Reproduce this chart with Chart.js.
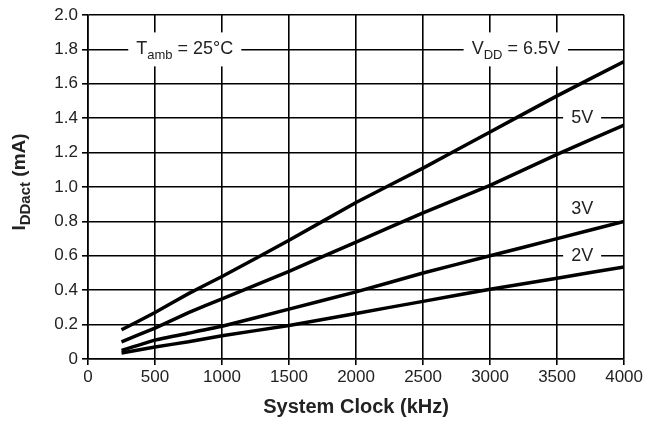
<!DOCTYPE html>
<html>
<head>
<meta charset="utf-8">
<script src="https://cdn.jsdelivr.net/npm/chart.js@4.4.0/dist/chart.umd.min.js"></script>
<style>
  body { margin: 0; background: #fff; }
  #wrap { width: 645px; height: 423px; }
</style>
</head>
<body>
<div id="wrap"><canvas id="chart" width="645" height="423"></canvas></div>
<script>
// system clock (kHz) where the curves were sampled
const clockKHz = [250, 500, 750, 1000, 1500, 2000, 2500, 3000, 3500, 4000];

// supply current IDDact (mA) per VDD
const idd65V = [0.17, 0.27, 0.38, 0.48, 0.69, 0.91, 1.11, 1.32, 1.53, 1.73];
const idd5V  = [0.10, 0.18, 0.27, 0.35, 0.51, 0.68, 0.85, 1.01, 1.19, 1.36];
const idd3V  = [0.05, 0.11, 0.15, 0.19, 0.29, 0.39, 0.50, 0.60, 0.70, 0.80];
const idd2V  = [0.035, 0.07, 0.10, 0.135, 0.195, 0.265, 0.335, 0.405, 0.47, 0.535];

const xTicksStep = 500;
const yTicksStep = 0.2;

// in-plot labels: position in data units, text parts (sub = subscript)
const notes = [
    {x: 722, y: 1.8, parts: [{t: 'T'}, {t: 'amb', sub: true}, {t: ' = 25°C'}]},
    {x: 3192, y: 1.8, parts: [{t: 'V'}, {t: 'DD', sub: true}, {t: ' = 6.5V'}]},
    {x: 3687, y: 1.4, parts: [{t: '5V'}]},
    {x: 3687, y: 0.87, parts: [{t: '3V'}]},
    {x: 3687, y: 0.6, parts: [{t: '2V'}]}
];

const FONT = '"Liberation Sans", Arial, Helvetica, sans-serif';
Chart.defaults.font.family = FONT;

function toPoints(ys){
    return clockKHz.map((x, i) => ({x: x, y: ys[i]}));
}

function lineSet(label, ys){
    return {
        label: label,
        data: toPoints(ys),
        borderColor: '#000',
        borderWidth: 3.5,
        pointRadius: 0,
        tension: 0.1,
        fill: false
    };
}

// draws text made of normal + subscript parts, centered on x
function drawParts(ctx, parts, x, y, size, subSize, bold){
    const f = s => (bold ? 'bold ' : '') + s + 'px ' + FONT;
    let w = 0;
    parts.forEach(p => {
        ctx.font = f(p.sub ? subSize : size);
        w += ctx.measureText(p.t).width;
    });
    let cx = x - w / 2;
    parts.forEach(p => {
        ctx.font = f(p.sub ? subSize : size);
        ctx.fillText(p.t, cx, p.sub ? y + size * 0.33 : y);
        cx += ctx.measureText(p.t).width;
    });
    return w;
}

const notesPlugin = {
    id: 'notes',
    beforeDatasetsDraw(chart){
        const ctx = chart.ctx;
        const xs = chart.scales.x, ys = chart.scales.y;
        ctx.save();
        ctx.textBaseline = 'middle';
        ctx.textAlign = 'left';
        notes.forEach(n => {
            const px = xs.getPixelForValue(n.x);
            const py = ys.getPixelForValue(n.y);
            let w = 0;
            n.parts.forEach(p => {
                ctx.font = (p.sub ? 13 : 18) + 'px ' + FONT;
                w += ctx.measureText(p.t).width;
            });
            const h = n.parts.some(p => p.sub) ? 34 : 18;
            ctx.fillStyle = '#fff';
            ctx.fillRect(px - w / 2 - 8, py - h / 2, w + 16, h);
            ctx.fillStyle = '#222';
            drawParts(ctx, n.parts, px, py, 18, 13, false);
        });
        ctx.restore();
    },
    afterDraw(chart){
        // y axis title with subscript
        const ctx = chart.ctx;
        ctx.save();
        ctx.translate(20, 182);
        ctx.rotate(-Math.PI / 2);
        ctx.textBaseline = 'middle';
        ctx.textAlign = 'left';
        ctx.fillStyle = '#222';
        drawParts(ctx, [{t: 'I'}, {t: 'DDact', sub: true}, {t: ' (mA)'}], 0, 0, 19, 15, true);
        ctx.restore();
    }
};

new Chart(document.getElementById('chart').getContext('2d'), {
    type: 'line',
    data: {
        datasets: [
            lineSet('6.5V', idd65V),
            lineSet('5V', idd5V),
            lineSet('3V', idd3V),
            lineSet('2V', idd2V)
        ]
    },
    options: {
        responsive: false,
        animation: false,
        layout: {padding: {left: 0, right: 20, top: 15, bottom: 0}},
        plugins: {
            legend: {display: false},
            tooltip: {enabled: false}
        },
        scales: {
            x: {
                type: 'linear',
                min: 0,
                max: 4000,
                ticks: {
                    stepSize: xTicksStep,
                    color: '#222',
                    font: {size: 17},
                    padding: 2,
                    maxRotation: 0,
                    callback: v => String(v)
                },
                grid: {color: '#000', lineWidth: 1.6, tickLength: 6},
                border: {color: '#000', width: 1.6},
                title: {
                    display: true,
                    text: 'System Clock (kHz)',
                    color: '#222',
                    font: {size: 20, weight: 'bold'},
                    padding: {top: 5}
                },
                afterFit(scale){ scale.height = 64; }
            },
            y: {
                min: 0,
                max: 2.0,
                ticks: {
                    stepSize: yTicksStep,
                    color: '#222',
                    font: {size: 17},
                    padding: 4,
                    callback: v => v === 0 ? '0' : v.toFixed(1)
                },
                grid: {color: '#000', lineWidth: 1.6, tickLength: 6},
                border: {color: '#000', width: 1.6},
                afterFit(scale){ scale.width = 88; }
            }
        }
    },
    plugins: [notesPlugin]
});
</script>
</body>
</html>
